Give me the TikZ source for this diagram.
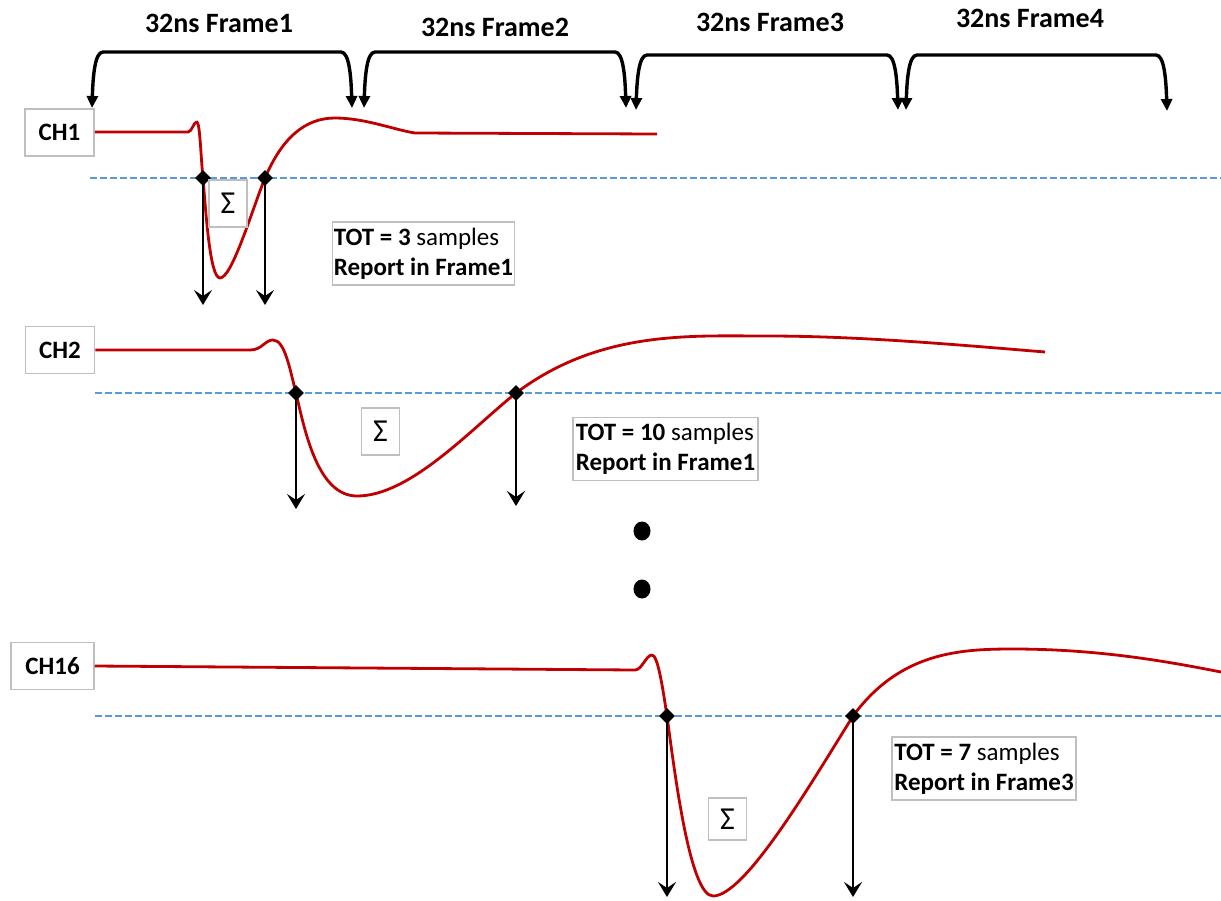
\documentclass[tikz,border=0pt]{standalone}
\usepackage{fontspec}
\setmainfont{Carlito}
\usetikzlibrary{arrows.meta,shapes.geometric}
\definecolor{sigred}{HTML}{C00000}
\definecolor{thrblue}{HTML}{5B9BD5}
\definecolor{boxgray}{HTML}{BFBFBF}
\begin{document}
\begin{tikzpicture}[x=1pt,y=-1pt,
  framebrace/.style={line width=3.4pt,line join=round,
    {Triangle[length=12pt,width=11pt]}-{Triangle[length=12pt,width=11pt]}},
  framelbl/.style={font=\fontsize{28}{34}\selectfont\bfseries,inner sep=0pt},
  chbox/.style={draw=boxgray,line width=1.5pt,font=\fontsize{25}{30}\selectfont\bfseries,
    minimum width=69pt,minimum height=47pt,inner sep=0pt},
  sigmabox/.style={draw=boxgray,line width=1.5pt,font=\fontsize{32}{36}\selectfont,
    minimum width=38pt,minimum height=47pt,inner sep=0pt},
  totbox/.style={draw=boxgray,line width=1.5pt,font=\fontsize{25}{30}\selectfont\bfseries,
    align=left,inner xsep=1.5pt,inner ysep=0pt,minimum height=63pt},
  signal/.style={sigred,line width=2.8pt,line join=round},
  thresh/.style={thrblue,line width=2.2pt,dash pattern=on 7pt off 3pt},
  cross/.style={diamond,fill=black,minimum size=16pt,inner sep=0pt},
  downarrow/.style={black,line width=2.2pt,-{Stealth[length=15pt,width=18pt,inset=6pt]}},
  dotmark/.style={ellipse,fill=black,minimum width=17pt,minimum height=19pt,inner sep=0pt}
]
\useasboundingbox (0,0) rectangle (1221,900);

% frame labels
\node[framelbl] (f1) at (219,23) {32ns Frame1};
\node[framelbl] (f2) at (495,27) {32ns Frame2};
\node[framelbl] (f3) at (770,22) {32ns Frame3};
\node[framelbl] (f4) at (1030,18) {32ns Frame4};

% brace tips
\coordinate (b1l) at (92,108);  \coordinate (b1r) at (352,108);
\coordinate (b2l) at (364,108); \coordinate (b2r) at (626,108);
\coordinate (b3l) at (636,110); \coordinate (b3r) at (898,110);
\coordinate (b4l) at (906,110); \coordinate (b4r) at (1167,111);

\draw[framebrace] (b1l) .. controls (93,75) and (95,52) .. (103,52) -- (341,52) .. controls (349,52) and (351,75) .. (b1r);
\draw[framebrace] (b2l) .. controls (365,75) and (367,52) .. (375,52) -- (615,52) .. controls (623,52) and (625,75) .. (b2r);
\draw[framebrace] (b3l) .. controls (637,78) and (639,55) .. (647,55) -- (887,55) .. controls (895,55) and (897,78) .. (b3r);
\draw[framebrace] (b4l) .. controls (907,78) and (909,55) .. (917,55) -- (1156,55) .. controls (1164,55) and (1166,78) .. (b4r);

% ---------------- CH1 ----------------
\node[chbox] (ch1) at (59.5,132.5) {CH1};
\coordinate (t1s) at (90,178); \coordinate (t1e) at (1221,178);
\draw[thresh] (t1s) -- (t1e);
\coordinate (c1a) at (203,178); \coordinate (c1b) at (265,178);
\coordinate (s1e) at (657,134);
\draw[signal] (ch1.east |- 0,132) -- (188,132) .. controls (192,132) and (194,121) .. (197,122)
  .. controls (200,123) and (201,160) .. (c1a)
  .. controls (206,214) and (210,278) .. (220,278)
  .. controls (232,278) and (252,210) .. (c1b)
  .. controls (282,138) and (305,118) .. (335,118)
  .. controls (365,118) and (395,130) .. (415,133) -- (s1e);
\node[cross] (d1a) at (c1a) {};
\node[cross] (d1b) at (c1b) {};
\coordinate (e1a) at (203,305); \coordinate (e1b) at (265,305);
\draw[downarrow] (d1a.center) -- (e1a);
\draw[downarrow] (d1b.center) -- (e1b);
\node[sigmabox] (sg1) at (228,203.5) {Σ};
\node[totbox,minimum width=181pt] (tot1) at (423.5,253.5) {TOT = 3 {\mdseries samples}\\Report in Frame1};

% ---------------- CH2 ----------------
\node[chbox] (ch2) at (60,350) {CH2};
\coordinate (t2s) at (95,393); \coordinate (t2e) at (1221,393);
\draw[thresh] (t2s) -- (t2e);
\coordinate (c2a) at (296,393); \coordinate (c2b) at (516,393);
\coordinate (s2e) at (1045,352);
\draw[signal] (ch2.east |- 0,350) -- (250,350) .. controls (262,350) and (265,340) .. (273,340)
  .. controls (285,340) and (290,370) .. (c2a)
  .. controls (305,432) and (318,496) .. (357,496)
  .. controls (410,496) and (470,430) .. (c2b)
  .. controls (600,330) and (690,336) .. (767,336)
  .. controls (860,336) and (960,345) .. (s2e);
\node[cross] (d2a) at (c2a) {};
\node[cross] (d2b) at (c2b) {};
\coordinate (e2a) at (296,509); \coordinate (e2b) at (516,506);
\draw[downarrow] (d2a.center) -- (e2a);
\draw[downarrow] (d2b.center) -- (e2b);
\node[sigmabox] (sg2) at (380.5,431.5) {Σ};
\node[totbox,minimum width=185pt] (tot2) at (665.5,449) {TOT = 10 {\mdseries samples}\\Report in Frame1};

% dots
\node[dotmark] (dot1) at (642,531) {};
\node[dotmark] (dot2) at (642,589) {};

% ---------------- CH16 ----------------
\node[chbox,minimum width=83pt] (ch16) at (52.5,666) {CH16};
\coordinate (t3s) at (95,716); \coordinate (t3e) at (1221,716);
\draw[thresh] (t3s) -- (t3e);
\coordinate (c3a) at (667,716); \coordinate (c3b) at (853,716);
\coordinate (s3e) at (1221,672);
\draw[signal] (ch16.east |- 0,666) -- (635,670) .. controls (642,670) and (646,655) .. (652,655)
  .. controls (658,655) and (663,690) .. (c3a)
  .. controls (675,775) and (690,896) .. (713,896)
  .. controls (745,896) and (810,785) .. (c3b)
  .. controls (900,652) and (960,649) .. (1013,649)
  .. controls (1100,649) and (1170,662) .. (s3e);
\node[cross] (d3a) at (c3a) {};
\node[cross] (d3b) at (c3b) {};
\coordinate (e3a) at (667,897); \coordinate (e3b) at (853,897);
\draw[downarrow] (d3a.center) -- (e3a);
\draw[downarrow] (d3b.center) -- (e3b);
\node[sigmabox,minimum height=42pt] (sg3) at (727.5,819) {Σ};
\node[totbox,minimum width=184pt] (tot3) at (984,768.5) {TOT = 7 {\mdseries samples}\\Report in Frame3};
\end{tikzpicture}
\end{document}
